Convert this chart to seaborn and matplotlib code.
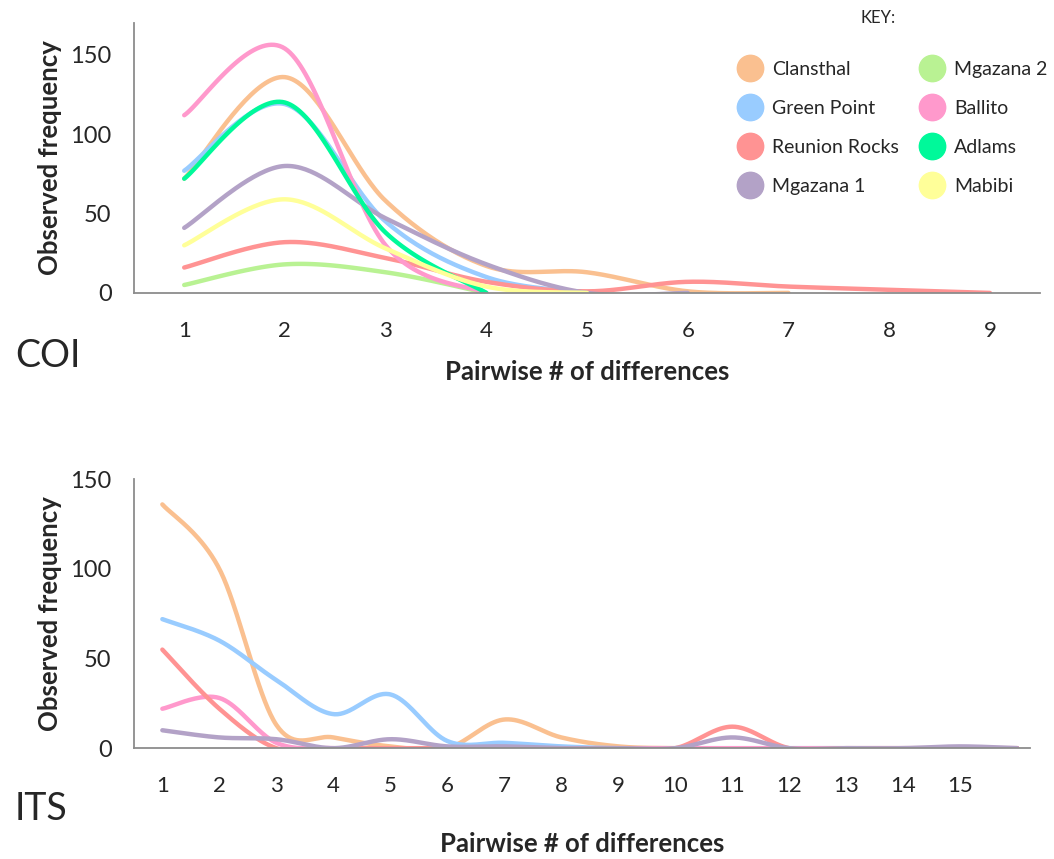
import numpy as np
import pandas as pd
import matplotlib
matplotlib.use("Agg")
import matplotlib.pyplot as plt
from matplotlib.lines import Line2D
import seaborn as sns

# ---------------- data ----------------
series_names = ["Clansthal", "Green Point", "Reunion Rocks", "Mgazana 1",
                "Mgazana 2", "Ballito", "Adlams", "Mabibi"]
series_colors = ["#FAC090", "#99CCFF", "#FF9393", "#B3A2C7",
                 "#B9F293", "#FF99CC", "#00F99A", "#FFFF99"]

# COI: observed frequency per pairwise number of differences (x starts at 1)
coi_clansthal = [72, 136, 58, 17, 13, 1, 0]
coi_green_point = [77, 119, 45, 10, 0]
coi_reunion = [16, 32, 22, 7, 1, 7, 4, 2, 0]
coi_mgazana1 = [41, 80, 47, 18, 0, 0]
coi_mgazana2 = [5, 18, 13, 0]
coi_ballito = [112, 154, 30, 0]
coi_adlams = [72, 120, 38, 0]
coi_mabibi = [30, 59, 28, 4, 0]
coi_xticks = [1, 2, 3, 4, 5, 6, 7, 8, 9]
coi_yticks = [0, 50, 100, 150]

# ITS
its_clansthal = [136, 100, 13, 6, 1, 0, 16, 6, 1, 0, 0, 0, 0, 0, 0, 0]
its_green_point = [72, 60, 38, 19, 30, 4, 3, 1, 0, 0, 0, 0, 0, 0, 0, 0]
its_reunion = [55, 22, 0, 0, 0, 0, 0, 0, 0, 0, 12, 0, 0, 0, 0, 0]
its_ballito = [22, 28, 3, 0, 0, 0, 0, 0, 0, 0, 0, 0, 0, 0, 0, 0]
its_mgazana1 = [10, 6, 5, 0, 5, 1, 1, 0, 0, 0, 6, 0, 0, 0, 1, 0]
its_xticks = list(range(1, 16))
its_yticks = [0, 50, 100, 150]

coi_data = {"Clansthal": coi_clansthal, "Green Point": coi_green_point,
            "Reunion Rocks": coi_reunion, "Mgazana 1": coi_mgazana1,
            "Mgazana 2": coi_mgazana2, "Ballito": coi_ballito,
            "Adlams": coi_adlams, "Mabibi": coi_mabibi}
its_data = {"Clansthal": its_clansthal, "Green Point": its_green_point,
            "Reunion Rocks": its_reunion, "Mgazana 1": its_mgazana1,
            "Ballito": its_ballito}


def smooth(xs, ys, n=40):
    """Excel-like smoothed line (Catmull-Rom Bezier)."""
    p = np.column_stack([xs, ys]).astype(float)
    out = []
    m = len(p)
    t = np.linspace(0, 1, n)
    for i in range(m - 1):
        p0 = p[i - 1] if i > 0 else p[i]
        p1 = p[i]
        p2 = p[i + 1]
        p3 = p[i + 2] if i + 2 < m else p[i + 1]
        c1 = p1 + (p2 - p0) / 6.0
        c2 = p2 - (p3 - p1) / 6.0
        seg = (((1 - t) ** 3)[:, None] * p1 + (3 * (1 - t) ** 2 * t)[:, None] * c1
               + (3 * (1 - t) * t ** 2)[:, None] * c2 + (t ** 3)[:, None] * p2)
        if i > 0:
            seg = seg[1:]
        out.append(seg)
    return np.vstack(out)


def build_df(data):
    rows = []
    for name, vals in data.items():
        xs = np.arange(1, len(vals) + 1)
        pts = smooth(xs, vals)
        for k, (x, y) in enumerate(pts):
            rows.append((name, k, x, y))
    return pd.DataFrame(rows, columns=["series", "order", "x", "y"])


palette = dict(zip(series_names, series_colors))

sns.set_theme(style="white")
plt.rcParams["font.family"] = ["Lato", "DejaVu Sans"]

fig = plt.figure(figsize=(10.54, 8.59), dpi=100)
ax1 = fig.add_axes([0.127, 0.659, 0.860, 0.314])
ax2 = fig.add_axes([0.127, 0.129, 0.850, 0.313])


def style_axis(ax, xticks, yticks, xlim, ylim):
    ax.set_xlim(*xlim)
    ax.set_ylim(*ylim)
    ax.set_xticks(xticks)
    ax.set_yticks(yticks)
    ax.tick_params(axis="x", length=0, pad=20, labelsize=16)
    ax.tick_params(axis="y", length=0, pad=16, labelsize=17)
    for s in ["top", "right"]:
        ax.spines[s].set_visible(False)
    for s in ["left", "bottom"]:
        ax.spines[s].set_color("#8C8C8C")
        ax.spines[s].set_linewidth(1.3)
    ax.set_ylabel("Observed frequency", fontsize=18.5, fontweight="bold", labelpad=6)
    ax.grid(False)


df1 = build_df(coi_data)
hue_order1 = [n for n in series_names if n in coi_data]
sns.lineplot(data=df1, x="x", y="y", hue="series", hue_order=hue_order1,
             palette=palette, units="series", estimator=None, sort=False,
             linewidth=3.2, legend=False, ax=ax1, solid_capstyle="round")
style_axis(ax1, coi_xticks, coi_yticks, (0.5, 9.5), (0, 170))
ax1.set_xlabel("Pairwise # of differences", fontsize=18.5, fontweight="bold", labelpad=14)

df2 = build_df(its_data)
hue_order2 = ["Clansthal", "Green Point", "Ballito", "Reunion Rocks", "Mgazana 1"]
sns.lineplot(data=df2, x="x", y="y", hue="series", hue_order=hue_order2,
             palette=palette, units="series", estimator=None, sort=False,
             linewidth=3.2, legend=False, ax=ax2, solid_capstyle="round")
style_axis(ax2, its_xticks, its_yticks, (0.5, 16.22), (0, 150))
ax2.set_xlabel("Pairwise # of differences", fontsize=18.5, fontweight="bold", labelpad=26)

fig.text(0.014, 0.586, "COI", fontsize=27, va="center", ha="left")
fig.text(0.014, 0.058, "ITS", fontsize=27, va="center", ha="left")

# legend
fig.text(0.833, 0.979, "KEY:", fontsize=12, ha="center", va="center")
handles = [Line2D([], [], marker="o", linestyle="", markersize=19,
                  markerfacecolor=c, markeredgecolor=c, label=n)
           for n, c in zip(series_names, series_colors)]
leg = ax1.legend(handles=handles, ncol=2, frameon=False,
                 loc="upper left", bbox_to_anchor=(0.6895, 0.938),
                 bbox_transform=fig.transFigure, fontsize=14,
                 handlelength=1.6, handletextpad=0.35, columnspacing=0.88,
                 labelspacing=1.13, borderaxespad=0)

fig.savefig("out.png", dpi=100)
